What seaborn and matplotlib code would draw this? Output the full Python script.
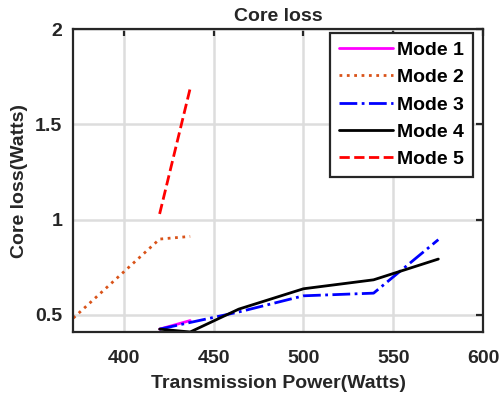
import matplotlib
matplotlib.use('Agg')
import matplotlib.pyplot as plt
import numpy as np
import pandas as pd
import seaborn as sns

sns.set_theme(style='whitegrid')
plt.rcParams['font.family'] = ['Liberation Sans', 'DejaVu Sans']
plt.rcParams['font.weight'] = 'bold'

modes = ['Mode 1', 'Mode 2', 'Mode 3', 'Mode 4', 'Mode 5']
power_m1 = [420, 437]
loss_m1 = [0.425, 0.47]
power_m2 = [372, 420, 437]
loss_m2 = [0.483, 0.898, 0.912]
power_m3 = [420, 437, 464, 500, 539, 575]
loss_m3 = [0.425, 0.46, 0.515, 0.60, 0.614, 0.895]
power_m4 = [420, 437, 464, 500, 539, 575]
loss_m4 = [0.425, 0.41, 0.53, 0.637, 0.684, 0.793]
power_m5 = [420, 437]
loss_m5 = [1.03, 1.69]

colors = ['#FF00FF', '#D95319', '#0000FF', '#000000', '#FF0000']
styles = ['-', ':', '-.', '-', '--']

series = [(power_m1, loss_m1), (power_m2, loss_m2), (power_m3, loss_m3),
          (power_m4, loss_m4), (power_m5, loss_m5)]

fig = plt.figure(figsize=(4.99, 3.94), dpi=100)
ax = fig.add_axes([0.1469, 0.1574, 0.8216, 0.7683])

for name, (p, l), c, ls in zip(modes, series, colors, styles):
    df = pd.DataFrame({'power': p, 'loss': l})
    sns.lineplot(data=df, x='power', y='loss', ax=ax, color=c, linestyle=ls,
                 linewidth=2, label=name, sort=False)

ax.set_xlim(372, 600)
ax.set_ylim(0.41, 2)
ax.set_xticks([400, 450, 500, 550, 600])
ax.set_yticks([0.5, 1, 1.5, 2])
ax.set_yticklabels(['0.5', '1', '1.5', '2'])
ax.grid(True, color='#DDDDDD', linewidth=1.8)
for s in ax.spines.values():
    s.set_color('#262626')
    s.set_linewidth(1.6)
ax.tick_params(direction='in', length=5, width=1.6, colors='#262626',
               labelsize=14, top=True, right=True, labelcolor='#262626')
ax.tick_params(axis='x', pad=13)
ax.tick_params(axis='y', pad=8)
for t in ax.get_xticklabels() + ax.get_yticklabels():
    t.set_fontweight('bold')

ax.set_xlabel('Transmission Power(Watts)', fontsize=14, fontweight='bold', labelpad=6)
ax.set_ylabel('Core loss(Watts)', fontsize=14, fontweight='bold', labelpad=5)
ax.set_title('Core loss', fontsize=14, fontweight='bold', pad=6)

leg = ax.legend(loc='upper right', bbox_to_anchor=(0.975, 0.989), fontsize=14,
                frameon=True, fancybox=False, borderaxespad=0,
                handlelength=2.8, labelspacing=0.5, handletextpad=0.22,
                borderpad=0.45)
leg.get_frame().set_edgecolor('#262626')
leg.get_frame().set_linewidth(1.6)
leg.get_frame().set_alpha(1)
for t in leg.get_texts():
    t.set_fontweight('bold')
    t.set_color('black')

fig.savefig('out.png', dpi=100)
